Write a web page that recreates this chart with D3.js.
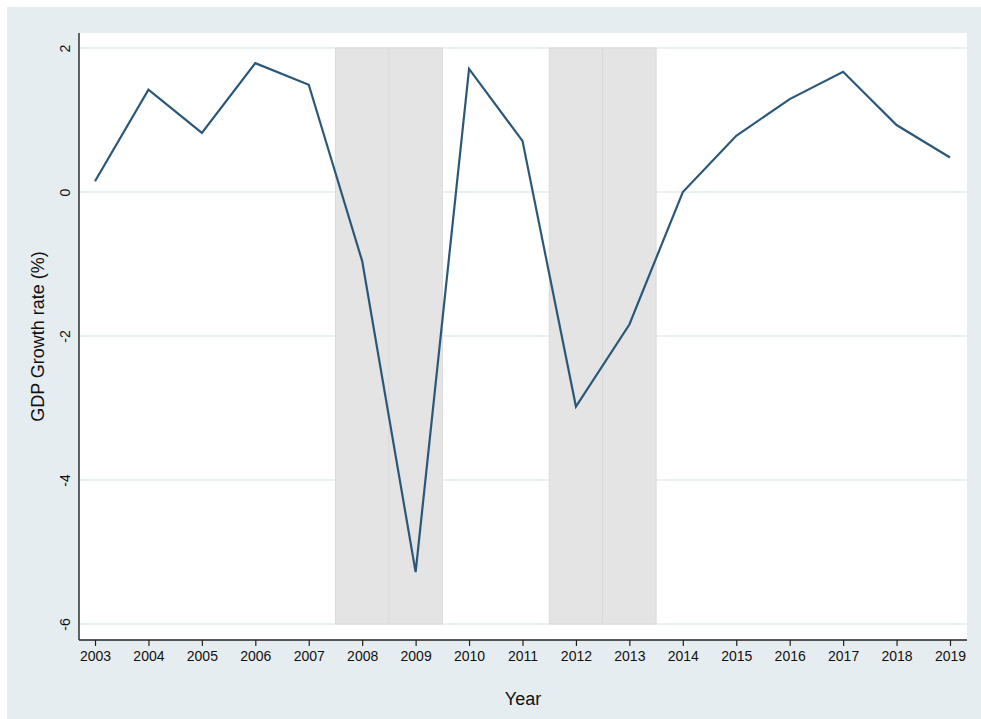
<!DOCTYPE html>
<html>
<head>
<meta charset="utf-8">
<script src="https://cdn.jsdelivr.net/npm/d3@7"></script>
<style>
  html, body { margin: 0; padding: 0; background: #ffffff; }
  svg { display: block; }
  text { font-family: "Liberation Sans", Arial, Helvetica, sans-serif; fill: #111; }
</style>
</head>
<body>
<svg id="chart" width="981" height="719"></svg>
<script>
// Annual GDP growth (%), 2003–2019
const years = [2003, 2004, 2005, 2006, 2007, 2008, 2009, 2010, 2011,
               2012, 2013, 2014, 2015, 2016, 2017, 2018, 2019];
const growth = [0.15, 1.42, 0.82, 1.79, 1.49, -0.96, -5.28, 1.71, 0.71,
                -2.98, -1.84, 0.00, 0.78, 1.29, 1.67, 0.93, 0.48];

// Recession years, each shaded as a one-year band centred on the year
const recessionYears = [2008, 2009, 2012, 2013];

const yTicks = [2, 0, -2, -4, -6];
const xTitle = "Year";
const yTitle = "GDP Growth rate (%)";

// Plain hyphen-minus for negative tick labels
const intFmt = d => String(d);

const svg = d3.select("#chart");

// Outer graph region
svg.append("rect")
  .attr("x", 7).attr("y", 7)
  .attr("width", 974).attr("height", 712)
  .attr("fill", "#e6edf0");

// Plot region
const plot = { left: 79, right: 967, top: 33, bottom: 640 };
svg.append("rect")
  .attr("x", plot.left).attr("y", plot.top)
  .attr("width", plot.right - plot.left)
  .attr("height", plot.bottom - plot.top)
  .attr("fill", "#ffffff");

const x = d3.scaleLinear().domain([2003, 2019]).range([95, 950]);
const y = d3.scaleLinear().domain([-6, 2]).range([624, 48]);

// Horizontal gridlines
svg.append("g")
  .selectAll("line")
  .data(yTicks)
  .join("line")
  .attr("x1", plot.left + 1).attr("x2", plot.right)
  .attr("y1", d => y(d)).attr("y2", d => y(d))
  .attr("stroke", "#e9f1f3")
  .attr("stroke-width", 2);

// Recession bands
svg.append("g")
  .selectAll("rect")
  .data(recessionYears)
  .join("rect")
  .attr("x", d => x(d - 0.5))
  .attr("width", d => x(d + 0.5) - x(d - 0.5))
  .attr("y", y(2))
  .attr("height", y(-6) - y(2))
  .attr("fill", "#e4e4e4")
  .attr("stroke", "#dadada")
  .attr("stroke-width", 1);

// Growth line
const line = d3.line()
  .x((d, i) => x(years[i]))
  .y(d => y(d));

svg.append("path")
  .datum(growth)
  .attr("d", line)
  .attr("fill", "none")
  .attr("stroke", "#2b5878")
  .attr("stroke-width", 2.2)
  .attr("stroke-linejoin", "miter");

// X axis
const xAxis = d3.axisBottom(x)
  .tickValues(years)
  .tickFormat(intFmt)
  .tickSize(6)
  .tickPadding(5)
  .tickSizeOuter(0);

const gx = svg.append("g")
  .attr("transform", `translate(0,${plot.bottom})`)
  .call(xAxis);
gx.select(".domain").remove();
gx.append("line")
  .attr("x1", plot.left).attr("x2", plot.right)
  .attr("y1", 0).attr("y2", 0)
  .attr("stroke", "#222").attr("stroke-width", 1.4);
gx.selectAll(".tick line").attr("stroke", "#222").attr("stroke-width", 1.2);
gx.selectAll(".tick text")
  .style("font-size", "14px")
  .style("font-family", "'Liberation Sans', Arial, sans-serif")
  .attr("fill", "#111");

// Y axis (labels rotated, no tick marks)
const yAxis = d3.axisLeft(y)
  .tickValues(yTicks)
  .tickFormat(intFmt)
  .tickSize(0)
  .tickPadding(0);

const gy = svg.append("g")
  .attr("transform", `translate(${plot.left},0)`)
  .call(yAxis);
gy.select(".domain").remove();
gy.append("line")
  .attr("x1", 0).attr("x2", 0)
  .attr("y1", plot.top).attr("y2", plot.bottom)
  .attr("stroke", "#222").attr("stroke-width", 1.4);
gy.selectAll(".tick text")
  .attr("x", null).attr("dy", null)
  .attr("text-anchor", "middle")
  .attr("transform", "translate(-9,0) rotate(-90)")
  .style("font-size", "14px")
  .style("font-family", "'Liberation Sans', Arial, sans-serif")
  .attr("fill", "#111");

// Axis titles
svg.append("text")
  .attr("x", (plot.left + plot.right) / 2)
  .attr("y", 705)
  .attr("text-anchor", "middle")
  .style("font-size", "18px")
  .text(xTitle);

svg.append("text")
  .attr("transform", `translate(44,${(plot.top + plot.bottom) / 2}) rotate(-90)`)
  .attr("text-anchor", "middle")
  .style("font-size", "18px")
  .text(yTitle);
</script>
</body>
</html>
